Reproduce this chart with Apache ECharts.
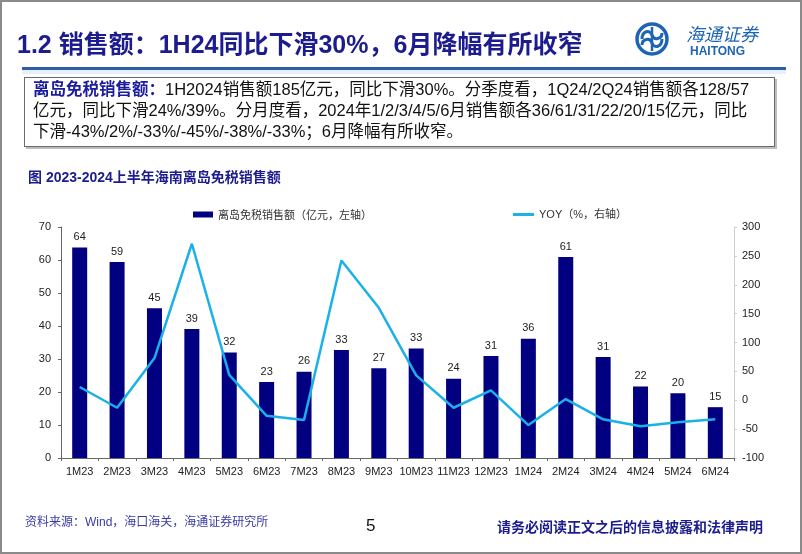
<!DOCTYPE html>
<html><head><meta charset="utf-8">
<script src="https://cdn.jsdelivr.net/npm/echarts@6/dist/echarts.min.js"></script>
<style>
html,body{margin:0;padding:0;background:#fff;}
#page{position:relative;width:802px;height:554px;overflow:hidden;box-sizing:border-box;border:2px solid #8a8a8a;font-family:"Liberation Sans",Arial,"Noto Sans CJK SC",sans-serif;}
#chart{position:absolute;left:0;top:0;width:798px;height:550px;}
.abs{position:absolute;white-space:nowrap;}
#title{left:15px;top:22px;font-size:25px;font-weight:bold;color:#1c1c8e;}
#rule{left:20px;top:65px;width:764px;height:3px;background:#2f5ea6;}
#rule2{left:20px;top:68px;width:764px;height:4px;background:#e6f0fa;}
#box{left:22px;top:75px;width:751px;height:70px;border:1px solid #6a6a6a;box-shadow:2px 2px 0 #bdbdbd;box-sizing:border-box;}
#boxtext{left:31px;top:77px;font-size:16.5px;line-height:21px;color:#111;}
#boxtext b{color:#1c1c9e;}
#ctitle{left:26px;top:164px;font-size:14px;font-weight:bold;color:#1c1c8e;}
#src{left:23px;top:510px;font-size:12px;color:#3a3aa8;}
#pgno{left:364px;top:514px;font-size:17px;color:#111;}
#disc{left:495px;top:514px;font-size:14px;font-weight:bold;color:#1c1c8e;}
#logo{left:632px;top:19px;}
#logotext{left:684px;top:18px;font-size:18px;color:#1e64b4;font-style:italic;font-family:"Noto Sans CJK SC";}
#logoen{left:688px;top:42px;font-size:12px;font-weight:bold;color:#1e64b4;}
</style></head>
<body>
<div id="page">
<div id="chart"></div>
<div class="abs" id="title">1.2 销售额：1H24同比下滑30%，6月降幅有所收窄</div>
<svg class="abs" id="logo" width="40" height="40" viewBox="0 0 40 40">
<circle cx="18" cy="18" r="15" fill="none" stroke="#1e64b4" stroke-width="3.5"/>
<path d="M8,18 C8,10 16,8 18,14 C20,20 28,18 28,12" fill="none" stroke="#1e64b4" stroke-width="3"/>
<path d="M28,18 C28,26 20,28 18,22 C16,16 8,18 8,24" fill="none" stroke="#1e64b4" stroke-width="3"/>
<line x1="18" y1="6" x2="18" y2="30" stroke="#1e64b4" stroke-width="2.5"/>
</svg>
<div class="abs" id="logotext">海通证券</div>
<div class="abs" id="logoen">HAITONG</div>
<div class="abs" id="rule2"></div>
<div class="abs" id="rule"></div>
<div class="abs" id="box"></div>
<div class="abs" id="boxtext"><b>离岛免税销售额：</b>1H2024销售额185亿元，同比下滑30%。分季度看，1Q24/2Q24销售额各128/57<br>亿元，同比下滑24%/39%。分月度看，2024年1/2/3/4/5/6月销售额各36/61/31/22/20/15亿元，同比<br>下滑-43%/2%/-33%/-45%/-38%/-33%；6月降幅有所收窄。</div>
<div class="abs" id="ctitle">图 2023-2024上半年海南离岛免税销售额</div>
<div class="abs" id="src">资料来源：Wind，海口海关，海通证券研究所</div>
<div class="abs" id="pgno">5</div>
<div class="abs" id="disc">请务必阅读正文之后的信息披露和法律声明</div>
</div>
<script>
const categories = ['1M23','2M23','3M23','4M23','5M23','6M23','7M23','8M23','9M23','10M23','11M23','12M23','1M24','2M24','3M24','4M24','5M24','6M24'];
const salesValues = [63.8,59.4,45.4,39.1,32.0,23.0,26.1,32.7,27.2,33.2,24.0,30.9,36.1,60.9,30.6,21.7,19.6,15.4];
const yoyValues = [23,-13,73,271,44,-27,-34,242,160,43,-13,17,-43,2,-33,-45,-38,-33];
const leftTicks = {min:0,max:70,interval:10};
const rightTicks = {min:-100,max:300,interval:50};
const barName = '离岛免税销售额（亿元，左轴）';
const lineName = 'YOY（%，右轴）';

const ff = '"Liberation Sans",Arial,"Noto Sans CJK SC",sans-serif';
const chart = echarts.init(document.getElementById('chart'), null, {renderer:'canvas'});
chart.setOption({
  animation:false,
  textStyle:{fontFamily:ff},
  grid:{left:59,right:66,top:225,bottom:94},
  legend:[
    {data:[barName],left:186,top:202,itemWidth:20,itemHeight:6,icon:'rect',
     textStyle:{fontSize:11,color:'#333',fontFamily:'"Noto Sans CJK SC"'}},
    {data:[lineName],left:506,top:202,itemWidth:21,itemHeight:3,icon:'rect',
     textStyle:{fontSize:11,color:'#333',fontFamily:ff}}
  ],
  xAxis:{type:'category',data:categories,boundaryGap:true,
    axisLine:{lineStyle:{color:'#666',width:1}},
    axisTick:{show:true,length:3,inside:false,lineStyle:{color:'#666'}},
    axisLabel:{fontSize:11,color:'#222',margin:8,interval:0}},
  yAxis:[
    {type:'value',min:leftTicks.min,max:leftTicks.max,interval:leftTicks.interval,
     axisLine:{show:true,lineStyle:{color:'#666'}},
     axisTick:{show:true,length:3,lineStyle:{color:'#666'}},
     splitLine:{show:false},
     axisLabel:{fontSize:11,color:'#222',margin:10}},
    {type:'value',min:rightTicks.min,max:rightTicks.max,interval:rightTicks.interval,
     position:'right',
     axisLine:{show:true,lineStyle:{color:'#cfcfcf'}},
     axisTick:{show:true,length:3,lineStyle:{color:'#cfcfcf'}},
     splitLine:{show:false},
     axisLabel:{fontSize:11,color:'#222',margin:8}}
  ],
  series:[
    {name:barName,type:'bar',data:salesValues,barWidth:15,yAxisIndex:0,
     itemStyle:{color:'#000080'},
     label:{show:true,position:'top',fontSize:11,color:'#222',distance:5,
       formatter:p=>Math.round(p.value)}},
    {name:lineName,type:'line',data:yoyValues,yAxisIndex:1,symbol:'none',
     lineStyle:{color:'#1ab0e8',width:2.5},itemStyle:{color:'#1ab0e8'}}
  ]
});
</script>
</body></html>
